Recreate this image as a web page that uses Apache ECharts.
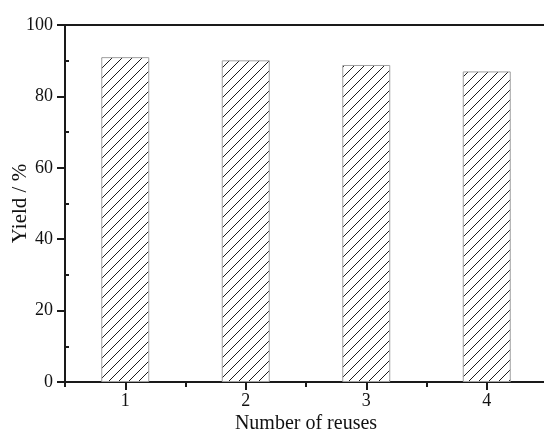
<!DOCTYPE html>
<html>
<head>
<meta charset="utf-8">
<script src="https://cdn.jsdelivr.net/npm/echarts@6/dist/echarts.min.js"></script>
<style>html,body{margin:0;padding:0;background:#fff}#c{width:544px;height:432px}</style>
</head>
<body>
<div id="c"></div>
<script>
const categories = ['1', '2', '3', '4'];
const yieldValues = [91.0, 90.1, 88.8, 87.0];
const yTicks = [0, 20, 40, 60, 80, 100];
const yMinorTicks = [10, 30, 50, 70, 90];

function hatch() {
  const s = 10;
  const c = document.createElement('canvas');
  c.width = s; c.height = s;
  const g = c.getContext('2d');
  g.fillStyle = '#fff';
  g.fillRect(0, 0, s, s);
  g.strokeStyle = '#1a1a1a';
  g.lineWidth = 1;
  g.beginPath();
  g.moveTo(-1, s + 1); g.lineTo(s + 1, -1);
  g.moveTo(-1, 1); g.lineTo(1, -1);
  g.moveTo(s - 1, s + 1); g.lineTo(s + 1, s - 1);
  g.stroke();
  return c;
}

const font = 'Liberation Serif';
const axisColor = '#1a1a1a';
const chart = echarts.init(document.getElementById('c'));
chart.setOption({
  animation: false,
  backgroundColor: '#fff',
  grid: { left: 65, right: -3, top: 25, bottom: 50, containLabel: false, outerBoundsMode: 'none' },
  xAxis: [
    {
      type: 'category', data: categories, position: 'bottom',
      axisLine: { lineStyle: { color: axisColor, width: 2 } },
      axisTick: { show: true, alignWithLabel: true, length: 8, lineStyle: { color: axisColor, width: 2 } },
      axisLabel: { fontFamily: font, fontSize: 18, fontWeight: 'normal', color: '#111', margin: 10 },
      name: 'Number of reuses', nameLocation: 'middle', nameGap: 32, nameMoveOverlap: false,
      nameTextStyle: { fontFamily: font, fontSize: 20, fontWeight: 'normal', color: '#111' }
    },
    {
      type: 'category', data: categories, position: 'bottom',
      axisLine: { show: false },
      axisTick: { show: true, alignWithLabel: false, length: 5, lineStyle: { color: axisColor, width: 2 } },
      axisLabel: { show: false }
    },
    {
      type: 'category', data: categories, position: 'top',
      axisLine: { show: true, lineStyle: { color: axisColor, width: 2 } },
      axisTick: { show: false }, axisLabel: { show: false }
    }
  ],
  yAxis: [
    {
      type: 'value', min: 0, max: 100, interval: 20,
      axisLine: { show: true, lineStyle: { color: axisColor, width: 2 } },
      axisTick: { show: true, length: 8, customValues: yTicks, lineStyle: { color: axisColor, width: 2 } },
      axisLabel: { fontFamily: font, fontSize: 18, fontWeight: 'normal', color: '#111', margin: 12, customValues: yTicks },
      splitLine: { show: false },
      name: 'Yield / %', nameLocation: 'middle', nameGap: 34, nameMoveOverlap: false,
      nameTextStyle: { fontFamily: font, fontSize: 21, fontWeight: 'normal', color: '#111' }
    },
    {
      type: 'value', min: 0, max: 100, position: 'left', offset: 0,
      axisLine: { show: false },
      axisTick: { show: true, inside: true, length: 4, customValues: yMinorTicks, lineStyle: { color: axisColor, width: 2 } },
      axisLabel: { show: false },
      splitLine: { show: false }
    }
  ],
  series: [{
    type: 'bar', xAxisIndex: 0, yAxisIndex: 0,
    data: yieldValues,
    barWidth: 48,
    itemStyle: {
      color: { image: hatch(), repeat: 'repeat' },
      borderColor: '#a0a0a0', borderWidth: 1
    }
  }]
});
</script>
</body>
</html>
